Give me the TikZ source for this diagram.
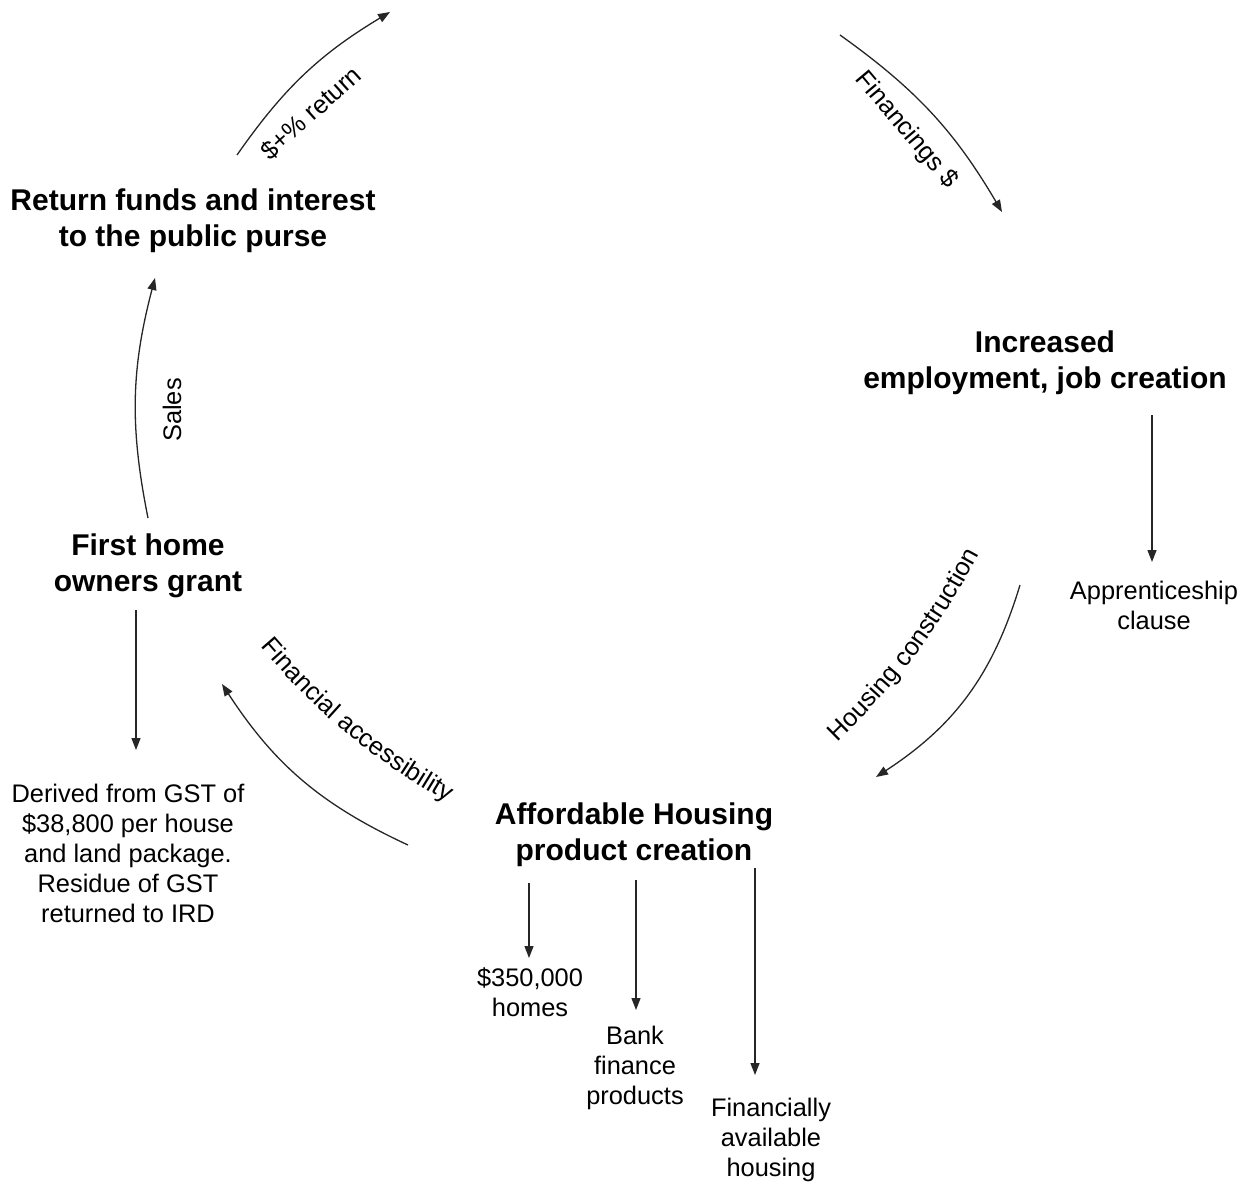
\documentclass[tikz,border=0pt]{standalone}
\usepackage{fontspec}
\setmainfont{Liberation Sans}
\usetikzlibrary{arrows.meta,decorations.text}
\begin{document}
\begin{tikzpicture}[x=1pt,y=1pt,
 boldtxt/.style={font=\fontsize{30}{36}\selectfont\bfseries, align=center, inner sep=0pt},
 plaintxt/.style={font=\fontsize{25.4}{30}\selectfont, align=center, inner sep=0pt},
 lab/.style={font=\fontsize{25.4}{30}\selectfont, inner sep=0pt},
 arr/.style={-{Triangle[length=12pt,width=9pt]}, line width=1.3pt, draw=black!85},
 curvetext/.style={decorate, decoration={text along path, text align=center,
   text={|\fontsize{25.4}{30}\selectfont|#1}}}]
\useasboundingbox (0,0) rectangle (1256,-1184);
% main nodes
\node[boldtxt] (ret) at (193,-221) {Return funds and interest\\to the public purse};
\node[boldtxt] (emp) at (1045,-363) {Increased\\employment, job creation};
\node[boldtxt] (fhog) at (148,-566) {First home\\owners grant};
\node[boldtxt] (aff) at (634,-835) {Affordable Housing\\product creation};
% sub nodes
\node[plaintxt] (app) at (1154,-605) {Apprenticeship\\clause};
\node[plaintxt] (gst) at (128,-853) {Derived from GST of\\\$38,800 per house\\and land package.\\Residue of GST\\returned to IRD};
\node[plaintxt] (homes) at (530,-992) {\$350,000\\homes};
\node[plaintxt] (bank) at (635,-1068) {Bank\\finance\\products};
\node[plaintxt] (avail) at (771,-1140) {Financially\\available\\housing};
% straight arrow endpoints
\coordinate (empS) at (1152,-415); \coordinate (appN) at (1152,-562);
\coordinate (fhogS) at (136,-610); \coordinate (gstN) at (136,-750);
\coordinate (affS1) at (529,-883); \coordinate (homesN) at (529,-958);
\coordinate (affS2) at (636,-880); \coordinate (bankN) at (636,-1010);
\coordinate (affS3) at (755,-868); \coordinate (availN) at (755,-1075);
\draw[arr] (empS) -- (appN);
\draw[arr] (fhogS) -- (gstN);
\draw[arr] (affS1) -- (homesN);
\draw[arr] (affS2) -- (bankN);
\draw[arr] (affS3) -- (availN);
% curved arrow endpoints
\coordinate (salesA) at (148,-518); \coordinate (salesB) at (155,-278);
\coordinate (retA) at (237,-155); \coordinate (retB) at (390,-12);
\coordinate (finA) at (840,-35); \coordinate (finB) at (1002,-212);
\coordinate (hcA) at (1020,-585); \coordinate (hcB) at (876,-777);
\coordinate (faA) at (408,-845); \coordinate (faB) at (222,-684);
\draw[arr] (salesA) to[bend left=13] (salesB);
\draw[arr] (retA) to[bend left=12] (retB);
\draw[arr] (finA) to[bend left=12] (finB);
\draw[arr] (hcA) to[bend left=20] (hcB);
\draw[arr] (faA) to[bend left=16] (faB);
% labels
\node[lab, rotate=90] (lsales) at (172,-410) {Sales};
\node[lab, rotate=42] (lret) at (311,-113) {\$+\% return};
\node[lab, rotate=-50] (lfin) at (906,-130) {Financings \$};
\coordinate (hcT1) at (829,-750); \coordinate (hcT2) at (985,-544);
\coordinate (faT1) at (254,-639); \coordinate (faT2) at (456,-807);
\path[curvetext={Housing construction}] (hcT1) to[bend right=9] (hcT2);
\path[curvetext={Financial accessibility}] (faT1) to[bend right=10] (faT2);
\end{tikzpicture}
\end{document}
